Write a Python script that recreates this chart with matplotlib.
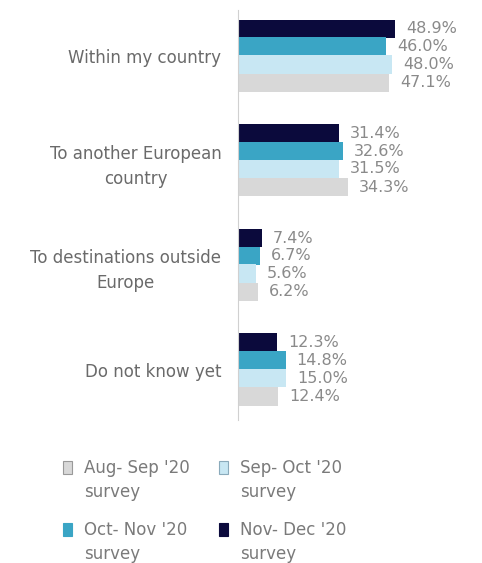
import matplotlib.pyplot as plt
import matplotlib.patches as mpatches
import numpy as np

plt.rcParams['font.family'] = ['DejaVu Sans']

categories = ["Within my country", "To another European\ncountry",
              "To destinations outside\nEurope", "Do not know yet"]
surveys = ["Nov- Dec '20\nsurvey", "Oct- Nov '20\nsurvey",
           "Sep- Oct '20\nsurvey", "Aug- Sep '20\nsurvey"]
nov_dec = [48.9, 31.4, 7.4, 12.3]
oct_nov = [46.0, 32.6, 6.7, 14.8]
sep_oct = [48.0, 31.5, 5.6, 15.0]
aug_sep = [47.1, 34.3, 6.2, 12.4]

series = [nov_dec, oct_nov, sep_oct, aug_sep]
colors = ["#0b0a3c", "#3aa5c5", "#c8e7f3", "#d8d8d8"]
edges = [colors[0], colors[1], "#8aaabb", "#999999"]
offsets = [-0.26, -0.09, 0.08, 0.255]
bar_h = 0.175

W, H = 482, 563
fig = plt.figure(figsize=(W/100, H/100), dpi=100)
ax = fig.add_axes([238/W, 1-420/H, 1-238/W, 410/H])

y = np.arange(len(categories))
for vals, col, off in zip(series, colors, offsets):
    ax.barh(y + off, vals, height=bar_h, color=col)
    for yi, v in zip(y, vals):
        ax.annotate(f"{v:.1f}%", (v, yi + off), xytext=(8, 0), textcoords="offset points",
                    va="center", ha="left", fontsize=11.5, color="#8a8a8a")

ax.set_xlim(0, 76)
ax.set_ylim(3.48, -0.44)
ax.set_yticks(y)
ax.set_yticklabels(categories, fontsize=12, color="#6a6a6a", ha="right")
for t in ax.get_yticklabels():
    t.set_multialignment("center")
    t.set_linespacing(1.5)
ax.tick_params(axis="y", length=0, pad=12)
ax.set_xticks([])
for s in ["top", "right", "bottom"]:
    ax.spines[s].set_visible(False)
ax.spines["left"].set_color("#d0d0d0")

# legend as 2x2 grid, marker aligned with first text line
order = [3, 2, 1, 0]  # Aug-Sep, Sep-Oct / Oct-Nov, Nov-Dec
col_x = [63, 219]
row_y = [468, 530]
for k, i in enumerate(order):
    cx, cy = col_x[k % 2], row_y[k // 2]
    fig.patches.append(mpatches.Rectangle((cx/W, 1-(cy+6)/H), 9/W, 13/H,
                                          transform=fig.transFigure,
                                          facecolor=colors[i], edgecolor=edges[i], lw=0.8))
    fig.text((cx+21)/W, 1-(cy-9)/H, surveys[i], fontsize=12, color="#7a7a7a",
             va="top", ha="left", linespacing=1.45)

fig.savefig("out.png", dpi=100)
